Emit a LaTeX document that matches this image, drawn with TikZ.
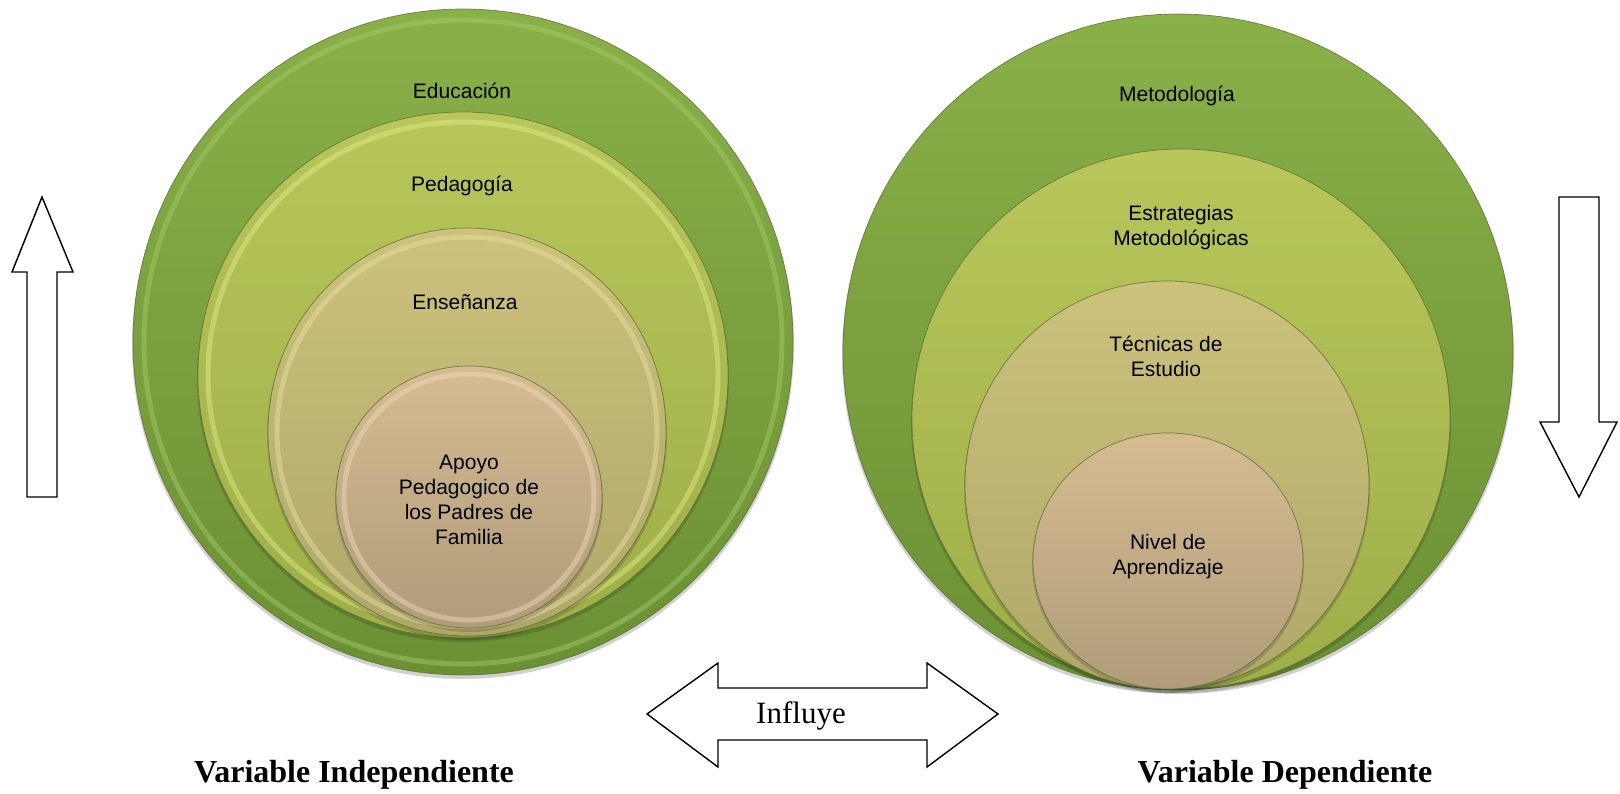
\documentclass[tikz,border=0pt]{standalone}
\usepackage{fontspec}
\setmainfont{Liberation Serif}
\newfontfamily\labfont{Liberation Sans}
\usetikzlibrary{shadings}
\definecolor{gTop}{HTML}{8AB049}
\definecolor{gBot}{HTML}{6A9034}
\definecolor{pTop}{HTML}{B8C65A}
\definecolor{pBot}{HTML}{9EAE48}
\definecolor{eTop}{HTML}{CCC27C}
\definecolor{eBot}{HTML}{AFA76A}
\definecolor{aTop}{HTML}{D5BC91}
\definecolor{aBot}{HTML}{B09C7A}
\definecolor{rimG}{HTML}{A6CC6A}
\definecolor{rimP}{HTML}{E6EC8A}
\definecolor{rimE}{HTML}{EAE2A4}
\definecolor{rimA}{HTML}{F0DCBC}
\definecolor{edge}{HTML}{5E6A36}
\tikzset{
  lab/.style={font=\labfont\fontsize{21}{25}\selectfont, align=center, text=black},
  varlab/.style={font=\fontsize{32}{36}\selectfont\bfseries, anchor=base},
  blockarrow/.style={draw=black, line width=1.4pt, fill=white, line join=miter},
  ring/.style={line width=0.7pt, draw=edge, draw opacity=0.8},
  rim/.style={line width=5pt, opacity=0.45},
}
\begin{document}
\begin{tikzpicture}[x=1pt,y=-1pt]
\useasboundingbox (0,0) rectangle (1620,794);
% ---------- Left set ----------
\coordinate (L1) at (463,342);
\coordinate (L2) at (463,375);
\coordinate (L3) at (467,432);
\coordinate (L4) at (469,497);
\fill[black, opacity=0.18] (463,345) ellipse [x radius=331pt, y radius=334pt];
\shade[top color=gTop, bottom color=gBot] (L1) ellipse [x radius=330pt, y radius=333pt];
\draw[rimG, rim] (L1) ellipse [x radius=319pt, y radius=322pt];
\draw[ring] (L1) ellipse [x radius=330pt, y radius=333pt];
\fill[black, opacity=0.15] (463,378) ellipse [x radius=266pt, y radius=264pt];
\shade[top color=pTop, bottom color=pBot] (L2) ellipse [x radius=265pt, y radius=263pt];
\draw[rimP, rim] (L2) ellipse [x radius=255pt, y radius=253pt];
\draw[ring] (L2) ellipse [x radius=265pt, y radius=263pt];
\fill[black, opacity=0.15] (467,435) ellipse [x radius=200pt, y radius=205pt];
\shade[top color=eTop, bottom color=eBot] (L3) ellipse [x radius=199pt, y radius=204pt];
\draw[rimE, rim] (L3) ellipse [x radius=190pt, y radius=195pt];
\draw[ring] (L3) ellipse [x radius=199pt, y radius=204pt];
\fill[black, opacity=0.15] (469,500) ellipse [x radius=134pt, y radius=132pt];
\shade[top color=aTop, bottom color=aBot] (L4) ellipse [x radius=133pt, y radius=131pt];
\draw[rimA, rim] (L4) ellipse [x radius=125pt, y radius=123pt];
\draw[ring] (L4) ellipse [x radius=133pt, y radius=131pt];
\node[lab] (educ) at (462,91) {Educación};
\node[lab] (peda) at (462,186) {Pedagogía};
\node[lab] (ense) at (465,302) {Enseñanza};
\node[lab] (apoyo) at (469,500) {Apoyo\\Pedagogico de\\los Padres de\\Familia};
% ---------- Right set ----------
\coordinate (R1) at (1178,352);
\coordinate (R2) at (1181,419);
\coordinate (R3) at (1167,485);
\coordinate (R4) at (1168,561);
\fill[black, opacity=0.18] (1178,355) ellipse [x radius=336pt, y radius=339pt];
\shade[top color=gTop, bottom color=gBot] (R1) ellipse [x radius=335pt, y radius=338pt];
\draw[ring] (R1) ellipse [x radius=335pt, y radius=338pt];
\fill[black, opacity=0.15] (1181,422) ellipse [x radius=270pt, y radius=271pt];
\shade[top color=pTop, bottom color=pBot] (R2) ellipse [x radius=269pt, y radius=270pt];
\draw[ring] (R2) ellipse [x radius=269pt, y radius=270pt];
\fill[black, opacity=0.15] (1167,488) ellipse [x radius=203pt, y radius=205pt];
\shade[top color=eTop, bottom color=eBot] (R3) ellipse [x radius=202pt, y radius=204pt];
\draw[ring] (R3) ellipse [x radius=202pt, y radius=204pt];
\fill[black, opacity=0.15] (1168,564) ellipse [x radius=136pt, y radius=129pt];
\shade[top color=aTop, bottom color=aBot] (R4) ellipse [x radius=135pt, y radius=128pt];
\draw[ring] (R4) ellipse [x radius=135pt, y radius=128pt];
\node[lab] (meto) at (1177,96) {Metodología};
\node[lab] (estr) at (1181,228) {Estrategias\\Metodológicas};
\node[lab] (tecn) at (1166,356) {Técnicas de\\Estudio};
\node[lab] (nivel) at (1168,557) {Nivel de\\Aprendizaje};
% ---------- Block arrows ----------
\draw[blockarrow] (42,197) -- (73,272) -- (57,272) -- (57,497) -- (27,497) -- (27,272) -- (12,272) -- cycle;
\draw[blockarrow] (1559,197) -- (1599,197) -- (1599,422) -- (1617,422) -- (1579,497) -- (1540,422) -- (1559,422) -- cycle;
\draw[blockarrow] (647,714) -- (718,663) -- (718,688) -- (927,688) -- (927,663) -- (998,714) -- (927,767) -- (927,740) -- (718,740) -- (718,767) -- cycle;
\node[font=\fontsize{31}{36}\selectfont, anchor=base] (influye) at (801,723) {Influye};
% ---------- Bottom labels ----------
\node[varlab] (vind) at (354,782) {Variable Independiente};
\node[varlab] (vdep) at (1285,782) {Variable Dependiente};
\end{tikzpicture}
\end{document}
